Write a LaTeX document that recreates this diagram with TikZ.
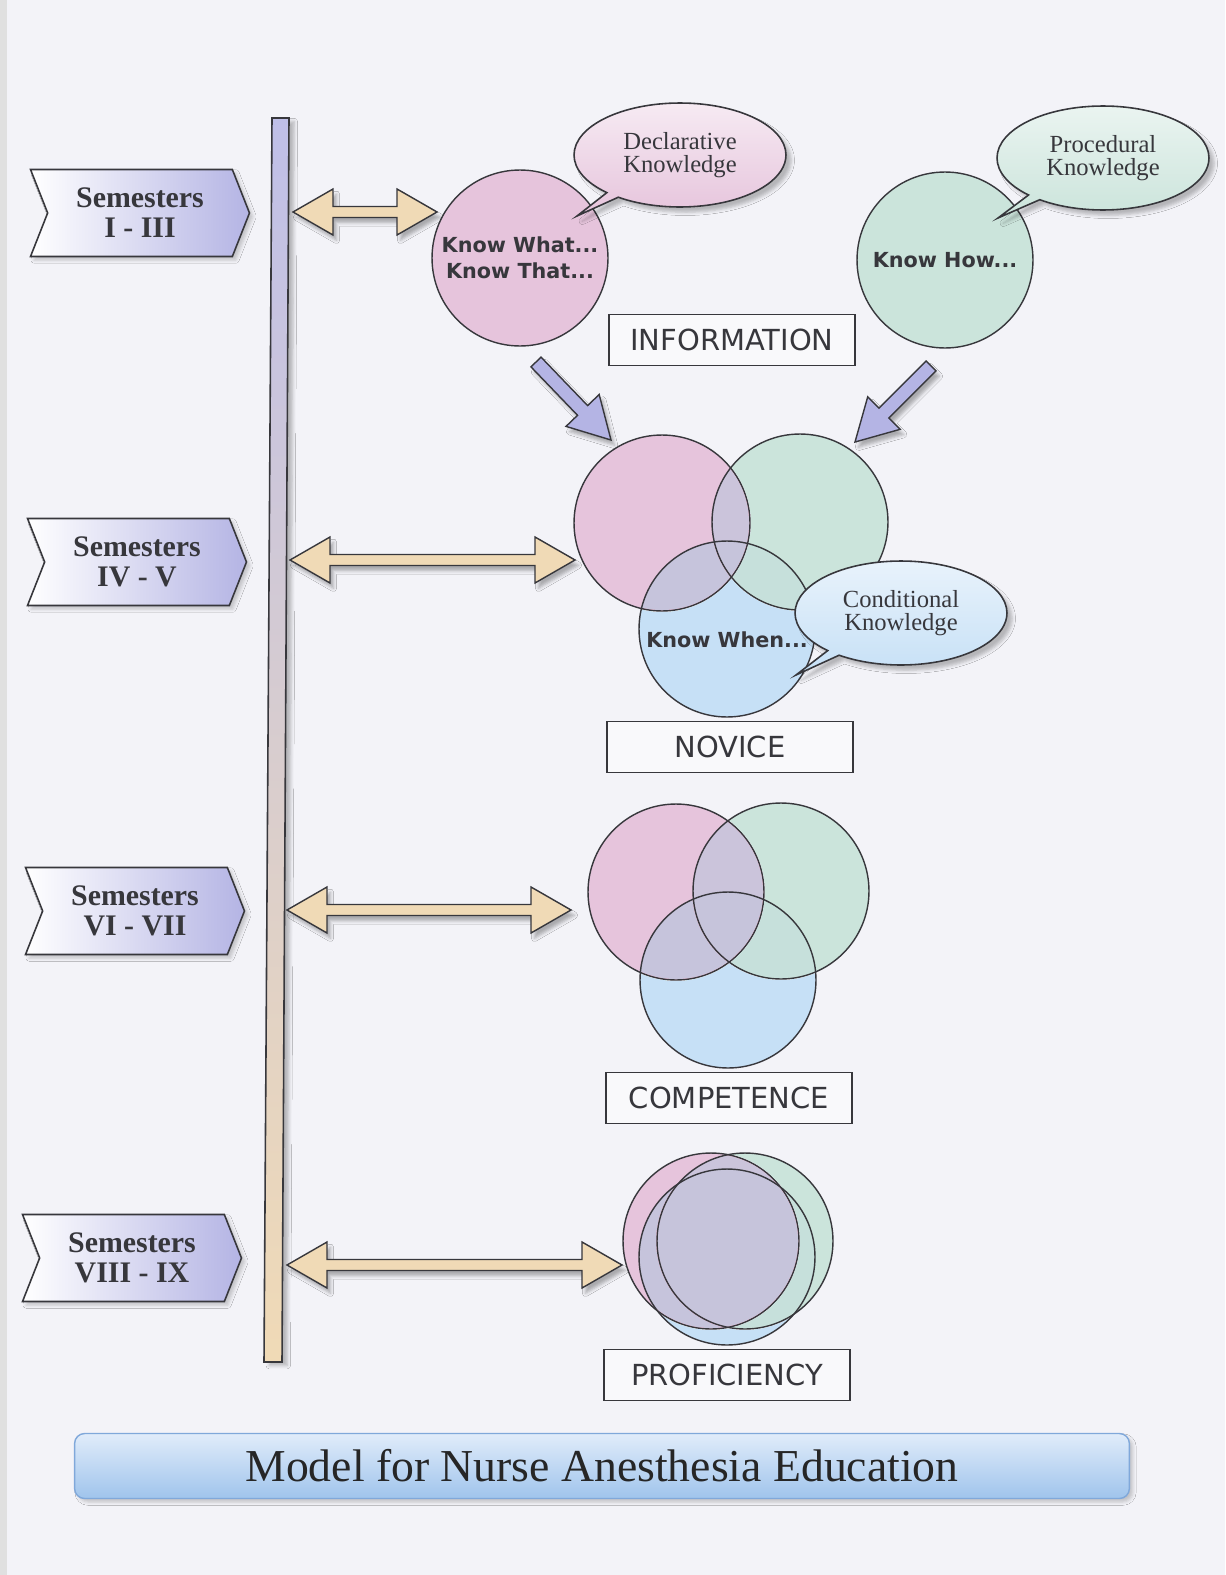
\documentclass[tikz,border=0pt]{standalone}
\usepackage{fontspec}
\setmainfont{Liberation Serif}
\newfontfamily\verdfont{DejaVu Sans}
\usetikzlibrary{shapes.geometric,shapes.symbols,shapes.callouts,shadows.blur,calc}

\definecolor{pagebg}{RGB}{243,243,248}
\definecolor{pinkc}{RGB}{230,196,220}
\definecolor{greenc}{RGB}{203,228,219}
\definecolor{bluec}{RGB}{198,224,246}
\definecolor{lavend}{RGB}{180,180,228}
\definecolor{tanfill}{RGB}{240,218,182}
\definecolor{inkgray}{RGB}{55,55,60}
\definecolor{titletop}{RGB}{224,236,250}
\definecolor{titlebot}{RGB}{160,196,236}
\definecolor{titleline}{RGB}{128,168,218}

\tikzstyle{semester}=[signal, signal to=east, signal from=west, signal pointer angle=137,
  draw=inkgray, line width=0.9pt, minimum width=4.38cm, minimum height=1.74cm,
  left color=white, right color=lavend, inner sep=0pt, align=center, text=inkgray,
  font=\fontsize{17}{17}\selectfont\bfseries,
  blur shadow={shadow xshift=2pt, shadow yshift=-2pt, shadow opacity=20}]
\tikzstyle{stagebox}=[draw=inkgray, line width=0.8pt, fill=white!50!pagebg,
  minimum width=4.92cm, minimum height=1.03cm, text=inkgray,
  font=\verdfont\fontsize{16.5}{18}\selectfont]
\tikzstyle{venn}=[circle, draw=inkgray, line width=0.8pt, minimum size=3.52cm, inner sep=0pt]
\tikzstyle{know}=[font=\verdfont\bfseries\fontsize{11.8}{15}\selectfont, text=inkgray, align=center]
\tikzstyle{bubble}=[ellipse callout, callout pointer arc=8, draw=inkgray, line width=0.9pt,
  minimum width=4.24cm, minimum height=2.08cm, inner sep=0pt, align=center, text=inkgray,
  font=\fontsize{14}{13}\selectfont,
  blur shadow={shadow xshift=3pt, shadow yshift=-3pt, shadow opacity=25}]
\tikzstyle{fatarrow}=[draw=inkgray, line width=0.8pt, fill=tanfill,
  blur shadow={shadow xshift=2pt, shadow yshift=-3pt, shadow opacity=30}]
\tikzstyle{titlebar}=[rounded corners=0.2cm, draw=titleline, line width=0.8pt,
  top color=titletop, bottom color=titlebot, minimum width=21.1cm, minimum height=1.3cm,
  text=black!85, font=\fontsize{26}{26}\selectfont,
  blur shadow={shadow xshift=2pt, shadow yshift=-2pt, shadow opacity=20}]

% two-headed block arrow between two named points
\newcommand{\dblarrow}[2]{%
  \path[fatarrow] (#1) -- ($(#1)!0.8cm!(#2)!0.46cm!90:(#2)$) -- ($(#1)!0.8cm!(#2)!0.11cm!90:(#2)$)
    -- ($(#2)!0.8cm!(#1)!0.11cm!-90:(#1)$) -- ($(#2)!0.8cm!(#1)!0.46cm!-90:(#1)$) -- (#2)
    -- ($(#2)!0.8cm!(#1)!0.46cm!90:(#1)$) -- ($(#2)!0.8cm!(#1)!0.11cm!90:(#1)$)
    -- ($(#1)!0.8cm!(#2)!0.11cm!-90:(#2)$) -- ($(#1)!0.8cm!(#2)!0.46cm!-90:(#2)$) -- cycle;}
% one-headed block arrow from tail to tip
\newcommand{\bigarrow}[2]{%
  \path[fatarrow, fill=lavend] ($(#1)!0.14cm!90:(#2)$) -- ($(#2)!0.82cm!(#1)!0.14cm!-90:(#1)$)
    -- ($(#2)!0.82cm!(#1)!0.46cm!-90:(#1)$) -- (#2) -- ($(#2)!0.82cm!(#1)!0.46cm!90:(#1)$)
    -- ($(#2)!0.82cm!(#1)!0.14cm!90:(#1)$) -- ($(#1)!0.14cm!-90:(#2)$) -- cycle;}

\begin{document}
\begin{tikzpicture}[x=0.02cm, y=-0.02cm]
    % page
    \fill[pagebg] (0,0) rectangle (1225,1575);
    \fill[black!12] (0,0) rectangle (7,1575);
    \useasboundingbox (0,0) rectangle (1225,1575);

    % time line
    \shade[top color=lavend!85!white, bottom color=tanfill, draw=inkgray, line width=0.9pt,
      blur shadow={shadow xshift=3pt, shadow yshift=-2pt, shadow opacity=25}]
      (272,118) -- (289,118) -- (282,1362) -- (264,1362) -- cycle;

    % semester labels
    \foreach \pos/\name/\txt in {{(140,213)/sem1/I - III}, {(137,562)/sem2/IV - V},
                                 {(135,911)/sem3/VI - VII}, {(132,1258)/sem4/VIII - IX}}
        \node[semester] (\name) at \pos {Semesters\\\txt};

    % links from time line to stages
    \foreach \tl/\st/\y/\xa/\xb in {tl1/st1/212/293/437, tl2/st2/560/290/575,
                                    tl3/st3/910/287/571, tl4/st4/1265/287/622} {
        \coordinate (\tl) at (\xa,\y);
        \coordinate (\st) at (\xb,\y);
        \dblarrow{\tl}{\st}
    }

    % information stage
    \node[venn, know, fill=pinkc] (what) at (520,258) {Know What...\\Know That...};
    \node[venn, know, fill=greenc] (how) at (945,260) {Know How...};
    \node[bubble, top color=pinkc!35!white, bottom color=pinkc,
      callout absolute pointer={(577,216)}] (decl) at (680,155) {Declarative\\Knowledge};
    \node[bubble, top color=greenc!40!white, bottom color=greenc,
      callout absolute pointer={(998,218)}] (proc) at (1103,158) {Procedural\\Knowledge};
    \node[stagebox] (info) at (732,340) {INFORMATION};

    % into the novice stage
    \coordinate (a1) at (536,362);
    \coordinate (b1) at (611,440);
    \coordinate (a2) at (931,366);
    \coordinate (b2) at (855,442);
    \bigarrow{a1}{b1}
    \bigarrow{a2}{b2}

    % the three circles of each later stage overlap
    \begin{scope}[blend mode=darken]
        \foreach \name/\col/\pos in {{nov1/pinkc/(662,523)}, {nov2/greenc/(800,522)}, {nov3/bluec/(727,629)},
                                     {com1/pinkc/(676,892)}, {com2/greenc/(781,891)}, {com3/bluec/(728,980)},
                                     {pro1/pinkc/(711,1241)}, {pro2/greenc/(745,1241)}, {pro3/bluec/(727,1257)}}
            \node[venn, fill=\col] (\name) at \pos {};
    \end{scope}

    % novice stage
    \node[know] (when) at (727,640) {Know When...};
    \node[bubble, top color=bluec!40!white, bottom color=bluec,
      callout absolute pointer={(796,675)}] (cond) at (901,613) {Conditional\\Knowledge};
    \node[stagebox] (novice) at (730,747) {NOVICE};

    % competence and proficiency stages
    \node[stagebox] (compet) at (729,1098) {COMPETENCE};
    \node[stagebox] (profic) at (727,1375) {PROFICIENCY};

    % title
    \node[titlebar] (title) at (602,1466) {Model for Nurse Anesthesia Education};
\end{tikzpicture}
\end{document}
